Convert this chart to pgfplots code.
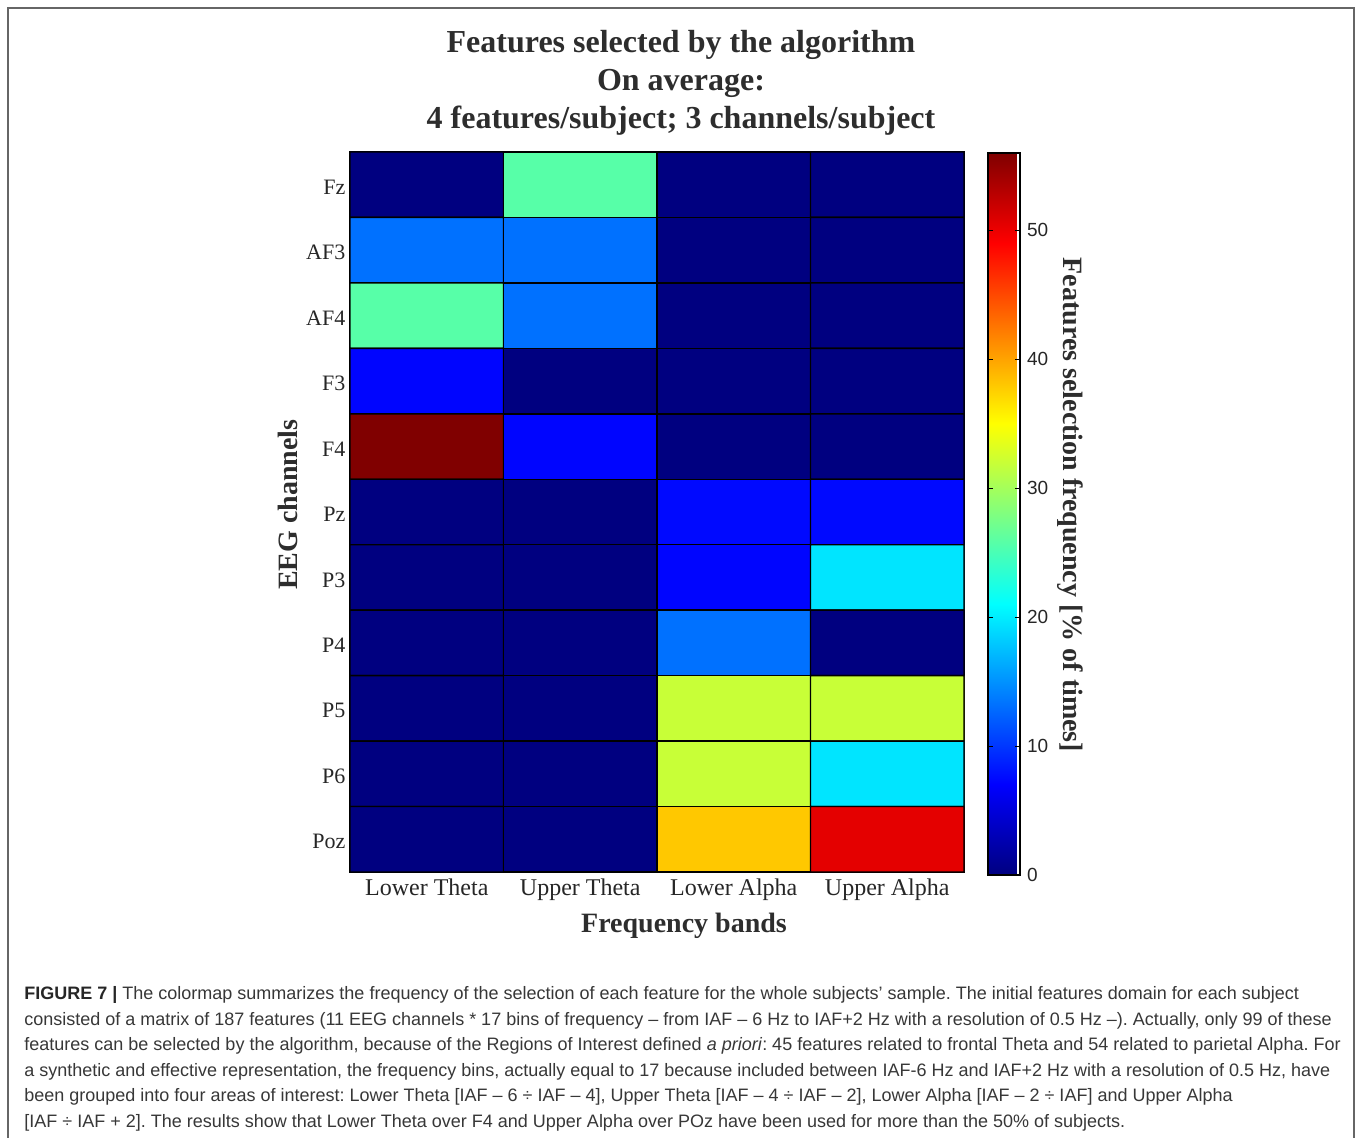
\documentclass[border=0pt]{standalone}
\usepackage{fontspec}
\setmainfont{Liberation Serif}
\setsansfont{Liberation Sans}
\newfontfamily\capfont{Liberation Sans}
\usepackage{pgfplots}
\pgfplotsset{compat=1.18}
\definecolor{txt}{RGB}{45,45,45}
\definecolor{captxt}{RGB}{55,55,55}
\begin{document}
\frenchspacing
\begin{tikzpicture}
\path[use as bounding box] (0,0) rectangle (679pt,569pt);
\draw[line width=1pt, black!60] (4pt,0) -- (4pt,565pt) -- (677pt,565pt) -- (677pt,0);
% title
\node[anchor=base, font=\bfseries\fontsize{16}{19}\selectfont, text=txt, inner sep=0] at (340.5pt,542.5pt) {Features selected by the algorithm};
\node[anchor=base, font=\bfseries\fontsize{16}{19}\selectfont, text=txt, inner sep=0] at (340.5pt,523.5pt) {On average:};
\node[anchor=base, font=\bfseries\fontsize{16}{19}\selectfont, text=txt, inner sep=0] at (340.5pt,504.5pt) {4 features/subject; 3 channels/subject};
\begin{axis}[
  at={(175pt,493pt)}, anchor=north west,
  scale only axis, width=307pt, height=360pt,
  xmin=-0.5, xmax=3.5, ymin=-0.5, ymax=10.5,
  y dir=reverse,
  xtick={0,1,2,3},
  xticklabels={Lower Theta, Upper Theta, Lower Alpha, Upper Alpha},
  ytick={0,...,10},
  yticklabels={Fz,AF3,AF4,F3,F4,Pz,P3,P4,P5,P6,Poz},
  major tick length=0pt,
  xticklabel style={font=\fontsize{12}{14}\selectfont, text=black!85},
  yticklabel style={font=\fontsize{11}{13}\selectfont, text=black!85, xshift=1.2pt, yshift=-1.2pt},
  axis line style={black, line width=0.6pt},
  colormap/jet,
  point meta min=0, point meta max=56,
  xlabel={Frequency bands},
  ylabel={EEG channels},
  xlabel style={at={(axis description cs:0.544,-0.0847)}, anchor=base, font=\bfseries\fontsize{14}{16}\selectfont, text=txt, inner sep=0},
  ylabel style={at={(axis description cs:-0.0863,0.51)}, anchor=base, font=\bfseries\fontsize{14}{16}\selectfont, text=txt, inner sep=0},
  colorbar right,
  colorbar style={
    at={(parent axis.north east)}, anchor=north west,
    xshift=3.5pt, yshift=-0.5pt,
    width=16pt, height=361pt,
    ytick={0,10,20,30,40,50},
    tick align=inside,
    major tick length=2.5pt,
    ytick pos=both, yticklabel pos=right,
    yticklabel style={font=\sffamily\fontsize{9.5}{11}\selectfont, text=black!85},
    /pgf/number format/assume math mode=true,
    axis line style={black, line width=0.6pt},
    tick style={black, line width=0.5pt},
  },
]
\addplot[matrix plot*, shader=faceted, faceted color=black, line width=0.7pt, mesh/cols=4, mesh/rows=11, point meta=explicit]
table[meta=c] {
x y c
0 0 0
1 0 25.8
2 0 0
3 0 0
0 1 13.2
1 1 13.2
2 1 0
3 1 0
0 2 25.8
1 2 13.2
2 2 0
3 2 0
0 3 7.3
1 3 0
2 3 0
3 3 0
0 4 56
1 4 7.3
2 4 0
3 4 0
0 5 0
1 5 0
2 5 7.5
3 5 7.5
0 6 0
1 6 0
2 6 7.3
3 6 19.6
0 7 0
1 7 0
2 7 13.2
3 7 0
0 8 0
1 8 0
2 8 32
3 8 32
0 9 0
1 9 0
2 9 32
3 9 19.6
0 10 0
1 10 0
2 10 38
3 10 50.5
};
\end{axis}
\node[rotate=-90, anchor=base, font=\bfseries\fontsize{14}{16}\selectfont, text=txt, inner sep=0] at (531.5pt,316.5pt) {Features selection frequency [\% of times]};
% caption
\begin{scope}[every node/.style={anchor=base west, inner sep=0, text=captxt, font=\capfont\fontsize{9}{12}\selectfont}]
\node at (12pt,69pt) {\textbf{\color{black!85}FIGURE 7 |} The colormap summarizes the frequency of the selection of each feature for the whole subjects’ sample. The initial features domain for each subject};
\node at (12pt,56.25pt) {consisted of a matrix of 187 features (11 EEG channels * 17 bins of frequency – from IAF – 6 Hz to IAF+2 Hz with a resolution of 0.5 Hz –). Actually, only 99 of these};
\node at (12pt,43.5pt) {features can be selected by the algorithm, because of the Regions of Interest defined \textit{a priori}: 45 features related to frontal Theta and 54 related to parietal Alpha. For};
\node at (12pt,30.75pt) {a synthetic and effective representation, the frequency bins, actually equal to 17 because included between IAF-6 Hz and IAF+2 Hz with a resolution of 0.5 Hz, have};
\node at (12pt,18pt) {been grouped into four areas of interest: Lower Theta [IAF – 6 ÷ IAF – 4], Upper Theta [IAF – 4 ÷ IAF – 2], Lower Alpha [IAF – 2 ÷ IAF] and Upper Alpha};
\node at (12pt,5.25pt) {[IAF ÷ IAF + 2]. The results show that Lower Theta over F4 and Upper Alpha over POz have been used for more than the 50\% of subjects.};
\end{scope}
\end{tikzpicture}
\end{document}
